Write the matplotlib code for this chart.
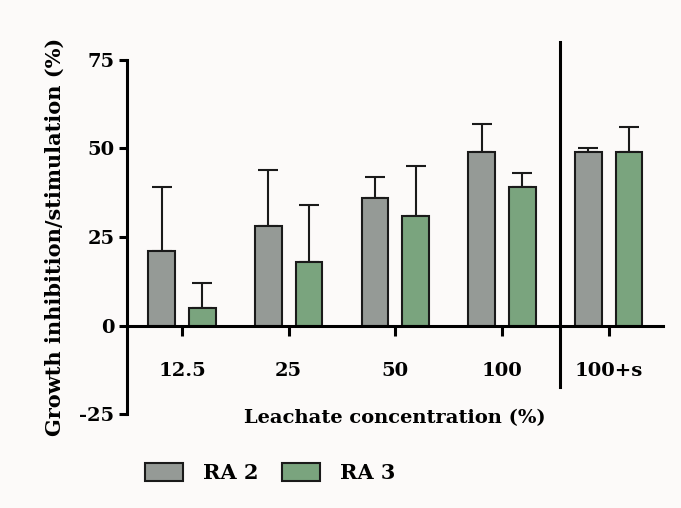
import numpy as np
import matplotlib.pyplot as plt
from matplotlib.patches import Patch

# Growth inhibition data, mean and upper error (SD)
categories = ["12.5", "25", "50", "100", "100+s"]
ra2_mean = [21, 28, 36, 49, 49]
ra2_err = [18, 16, 6, 8, 1]
ra3_mean = [5, 18, 31, 39, 49]
ra3_err = [7, 16, 14, 4, 7]

gray = "#959a96"
green = "#7aa47e"
bg = "#fcfaf9"

plt.rcParams['font.family'] = ['DejaVu Serif']
plt.rcParams['font.weight'] = 'bold'

fig = plt.figure(figsize=(6.81, 5.08), dpi=100, facecolor=bg)
ax = fig.add_axes([0.1865, 0.185, 0.787, 0.697], facecolor=bg)

x = np.arange(len(categories))
w = 0.25
off = 0.19
bar_kw = dict(width=w, edgecolor="#1a1a1a", linewidth=1.5, zorder=2)
err_kw = dict(elinewidth=1.5, capsize=7, capthick=1.5, ecolor="#1a1a1a")

ax.bar(x - off, ra2_mean, color=gray, **bar_kw)
ax.bar(x + off, ra3_mean, color=green, **bar_kw)
ax.errorbar(x - off, ra2_mean, yerr=[np.zeros(len(x)), ra2_err], fmt="none", zorder=1, **err_kw)
ax.errorbar(x + off, ra3_mean, yerr=[np.zeros(len(x)), ra3_err], fmt="none", zorder=1, **err_kw)

ax.set_xlim(-0.516, 4.51)
ax.set_ylim(-25, 75)
ax.set_yticks([-25, 0, 25, 50, 75])
ax.set_yticklabels(["-25", "0", "25", "50", "75"])
ax.set_xticks(x)
ax.set_xticklabels(categories)

for s in ["top", "right"]:
    ax.spines[s].set_visible(False)
ax.spines["bottom"].set_position(("data", 0))
ax.spines["bottom"].set_linewidth(2.2)
ax.spines["left"].set_linewidth(2.2)

ax.tick_params(axis="y", direction="out", length=6, width=2.2, labelsize=14, pad=3)
ax.tick_params(axis="x", direction="out", length=7, width=2.2, labelsize=14, pad=19)

# separator before the 100+s group
ax.plot([3.54, 3.54], [80, -17.5], color="black", lw=2.2, clip_on=False, zorder=3)

ax.set_ylabel("Growth inhibition/stimulation (%)", fontsize=15, fontweight="bold")
ax.yaxis.set_label_coords(-0.116, 0.5)
ax.text(0.5, -0.011, "Leachate concentration (%)", transform=ax.transAxes,
        ha="center", va="center", fontsize=14, fontweight="bold")

handles = [Patch(facecolor=gray, edgecolor="#1a1a1a", linewidth=1.5, label="RA 2"),
           Patch(facecolor=green, edgecolor="#1a1a1a", linewidth=1.5, label="RA 3")]
fig.legend(handles=handles, loc="center left", bbox_to_anchor=(0.213, 0.069), ncol=2,
           frameon=False, fontsize=15, handlelength=1.83, handleheight=1.0,
           columnspacing=1.1, handletextpad=0.96, borderpad=0, borderaxespad=0)

fig.savefig("out.png", dpi=100, facecolor=bg)
